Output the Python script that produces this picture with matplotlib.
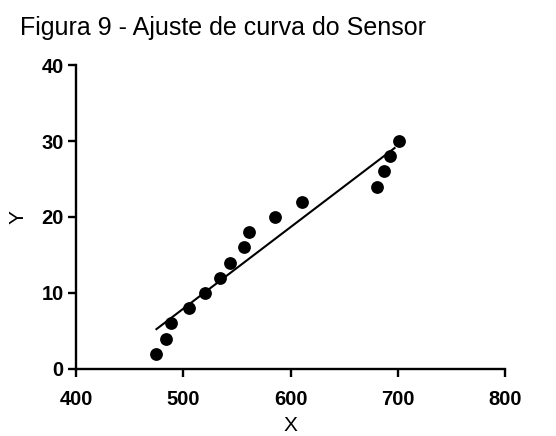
import numpy as np
import matplotlib
matplotlib.use("Agg")
import matplotlib.pyplot as plt

plt.rcParams['font.family'] = ['Liberation Sans', 'DejaVu Sans']

# sensor readings (x) vs reference values (y)
x_vals = [475, 484, 489, 505, 520, 534, 544, 557, 561, 586, 611, 681, 687, 693, 701]
y_vals = [2, 4, 6, 8, 10, 12, 14, 16, 18, 20, 22, 24, 26, 28, 30]
x_ticks = [400, 500, 600, 700, 800]
y_ticks = [0, 10, 20, 30, 40]

fig = plt.figure(figsize=(5.56, 4.36), dpi=100)
ax = fig.add_axes([0.1367, 0.1537, 0.7716, 0.6972])

ax.scatter(x_vals, y_vals, s=85, color='black', zorder=3, linewidths=0)

# linear fit over data range
slope, inter = np.polyfit(x_vals, y_vals, 1)
xf = np.array([min(x_vals), max(x_vals) - 4])
ax.plot(xf, slope * xf + inter, color='black', lw=1.5)

ax.set_xlim(400, 800)
ax.set_ylim(0, 40)
ax.set_xticks(x_ticks)
ax.set_yticks(y_ticks)
for s in ['top', 'right']:
    ax.spines[s].set_visible(False)
for s in ['left', 'bottom']:
    ax.spines[s].set_linewidth(1.7)
ax.tick_params(width=1.7, length=6, labelsize=14.5)
ax.tick_params(axis='x', pad=9)
ax.tick_params(axis='y', pad=3)
for lab in ax.get_xticklabels() + ax.get_yticklabels():
    lab.set_fontweight('bold')
ax.set_xlabel('X', fontsize=15, labelpad=5)
ax.set_ylabel('Y', fontsize=15, labelpad=10)

fig.text(20 / 556, 1 - 35 / 436, 'Figura 9 - Ajuste de curva do Sensor',
         fontsize=18, va='baseline', ha='left')

fig.savefig('out.png', dpi=100)
